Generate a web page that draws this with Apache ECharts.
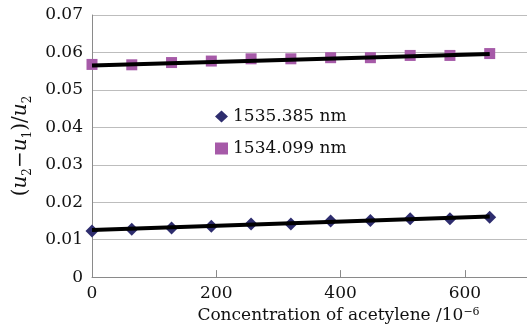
<!DOCTYPE html>
<html><head><meta charset="utf-8">
<script src="https://cdn.jsdelivr.net/npm/echarts@6/dist/echarts.min.js"></script>
<style>html,body{margin:0;padding:0;background:#fff}#c{width:527px;height:329px}</style>
</head><body><div id="c"></div>
<script>
// Data
const concentration = [0, 64, 128, 192, 256, 320, 384, 448, 512, 576, 640];
const ratio1535 = [0.0123, 0.0128, 0.0131, 0.0136, 0.0142, 0.0142, 0.0150, 0.0151, 0.0156, 0.0156, 0.0160];
const ratio1534 = [0.0568, 0.0567, 0.0573, 0.0577, 0.0583, 0.0583, 0.0586, 0.0586, 0.0592, 0.0592, 0.0597];
const fitX = [0, 640];
const fit1535 = [0.0126, 0.0162];
const fit1534 = [0.0565, 0.0596];
const seriesNames = ['1535.385 nm', '1534.099 nm'];
const xTickInterval = 200;
const yTickInterval = 0.01;

const FONT = 'DejaVu Serif';
const pts = (xs, ys) => xs.map((x, i) => [x, ys[i]]);

const chart = echarts.init(document.getElementById('c'));
chart.setOption({
  animation: false,
  backgroundColor: '#ffffff',
  grid: { left: 91, right: 0, top: 15, bottom: 51, containLabel: false },
  legend: {
    data: seriesNames,
    orient: 'vertical',
    left: 215, top: 108,
    padding: 0,
    itemWidth: 13, itemHeight: 12,
    itemGap: 15,
    textStyle: { fontFamily: FONT, fontSize: 17, lineHeight: 17, color: '#111' }
  },
  xAxis: {
    type: 'value', min: 0, max: 700, interval: xTickInterval,
    name: 'Concentration of acetylene /10{sup|−6}',
    nameLocation: 'middle', nameGap: 28,
    nameTextStyle: {
      fontFamily: FONT, fontSize: 17, color: '#111', padding: [0, 0, 0, 58],
      rich: { sup: { fontFamily: FONT, fontSize: 11, verticalAlign: 'top', lineHeight: 10 } }
    },
    axisLine: { show: true, lineStyle: { color: '#8a8a8a', width: 1 } },
    axisTick: { show: true, inside: true, length: 7, lineStyle: { color: '#8a8a8a' } },
    axisLabel: { fontFamily: FONT, fontSize: 17, color: '#111', margin: 8, showMaxLabel: false },
    splitLine: { show: false }
  },
  yAxis: {
    type: 'value', min: 0, max: 0.07, interval: yTickInterval,
    name: '({i|u}{sub|2}−{i|u}{sub|1})/{i|u}{sub|2}',
    nameLocation: 'middle', nameRotate: 90, nameGap: 58,
    nameTextStyle: {
      fontFamily: FONT, fontSize: 20, color: '#111', lineHeight: 26,
      rich: {
        i: { fontFamily: FONT, fontSize: 20, fontStyle: 'italic', color: '#111' },
        sub: { fontFamily: FONT, fontSize: 12, verticalAlign: 'bottom', lineHeight: 12, color: '#111' }
      }
    },
    axisLine: { show: true, lineStyle: { color: '#8a8a8a', width: 1 } },
    axisTick: { show: false },
    axisLabel: { fontFamily: FONT, fontSize: 17, color: '#111', margin: 9 },
    splitLine: { show: true, lineStyle: { color: '#bdbdbd', width: 1 } }
  },
  series: [
    {
      name: seriesNames[0], type: 'scatter', symbol: 'diamond', symbolSize: 13,
      itemStyle: { color: '#2e2d6e', opacity: 1 }, data: pts(concentration, ratio1535), z: 2
    },
    {
      name: seriesNames[1], type: 'scatter', symbol: 'rect', symbolSize: 11,
      itemStyle: { color: '#a65aa8', opacity: 1 }, data: pts(concentration, ratio1534), z: 2
    },
    {
      name: 'fit1', type: 'line', data: pts(fitX, fit1535), symbol: 'none',
      lineStyle: { color: '#000', width: 4 }, z: 3, silent: true
    },
    {
      name: 'fit2', type: 'line', data: pts(fitX, fit1534), symbol: 'none',
      lineStyle: { color: '#000', width: 4 }, z: 3, silent: true
    }
  ]
});
</script></body></html>
